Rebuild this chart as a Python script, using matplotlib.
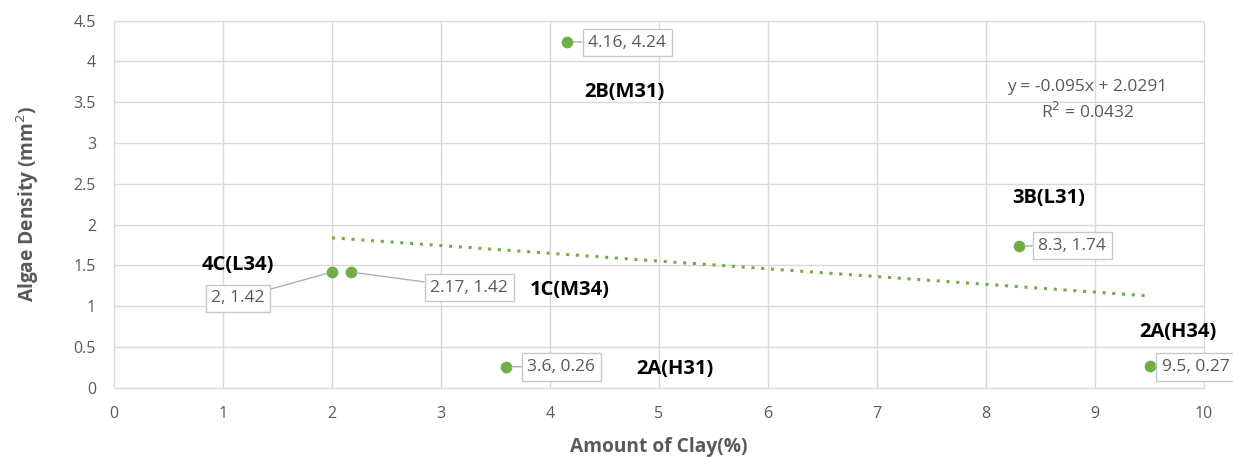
import matplotlib.pyplot as plt
import numpy as np

plt.rcParams['font.family'] = ['Open Sans', 'DejaVu Sans']

# clay content vs algae density per plot
clay = [4.16, 2.0, 2.17, 3.6, 8.3, 9.5]
density = [4.24, 1.42, 1.42, 0.26, 1.74, 0.27]
value_labels = ["4.16, 4.24", "2, 1.42", "2.17, 1.42", "3.6, 0.26", "8.3, 1.74", "9.5, 0.27"]
# left edge of each value label text
label_pos = [(4.35, 4.23), (0.89, 1.10), (2.90, 1.225), (3.79, 0.257), (8.48, 1.74), (9.61, 0.257)]

# site names drawn in bold beside the points
sites = ["2B(M31)", "3B(L31)", "4C(L34)", "1C(M34)", "2A(H31)", "2A(H34)"]
site_pos = [(4.68, 3.62), (8.57, 2.33), (1.14, 1.5), (4.18, 1.2), (5.15, 0.23), (9.76, 0.68)]

slope, intercept, r2 = -0.095, 2.0291, 0.0432

gray = '#595959'
green = '#70ad47'

fig = plt.figure(figsize=(12.33, 4.58), dpi=100)
ax = fig.add_axes([0.0925, 0.153, 0.884, 0.802])

ax.set_xlim(0, 10)
ax.set_ylim(0, 4.5)
ax.set_xticks(np.arange(0, 11, 1))
ax.set_yticks(np.arange(0, 4.6, 0.5))
ax.set_yticklabels(['0', '0.5', '1', '1.5', '2', '2.5', '3', '3.5', '4', '4.5'])
ax.grid(True, color='#d9d9d9', linewidth=1)
ax.set_axisbelow(True)
for s in ax.spines.values():
    s.set_color('#d9d9d9')
ax.tick_params(length=0, labelsize=11.5, labelcolor=gray, pad=13)

# trend line over the data range
tx = np.array([min(clay), max(clay)])
ax.plot(tx, slope * tx + intercept, linestyle=(0, (1, 2.2)), color=green, linewidth=2.2)

ax.scatter(clay, density, s=55, color=green, zorder=3)

for x, y, txt, (lx, ly) in zip(clay, density, value_labels, label_pos):
    ax.annotate(txt, xy=(x, y), xytext=(lx, ly), ha='left', va='center',
                fontsize=12.5, color=gray, annotation_clip=False,
                bbox=dict(boxstyle='square,pad=0.32', fc='white', ec='#c8c8c8', lw=1),
                arrowprops=dict(arrowstyle='-', color='#b0b0b0', lw=1,
                                shrinkA=0, shrinkB=4))

for txt, (sx, sy) in zip(sites, site_pos):
    ax.text(sx, sy, txt, ha='center', va='center', fontsize=14.5,
            fontweight='bold', color='black')

ax.text(8.93, 3.52, f"y = {slope}x + {intercept}\nR$^2$ = {r2}", ha='center',
        va='center', fontsize=12.5, color=gray, linespacing=1.4)

ax.set_xlabel('Amount of Clay(%)', fontsize=13.8, fontweight='bold', color=gray, va='top')
ax.xaxis.set_label_coords(0.5, -0.133)
ax.set_ylabel('Algae Density (mm$^2$)', fontsize=13.8, fontweight='bold', color=gray)
ax.yaxis.set_label_coords(-0.067, 0.5)

fig.savefig('out.png', dpi=100)
